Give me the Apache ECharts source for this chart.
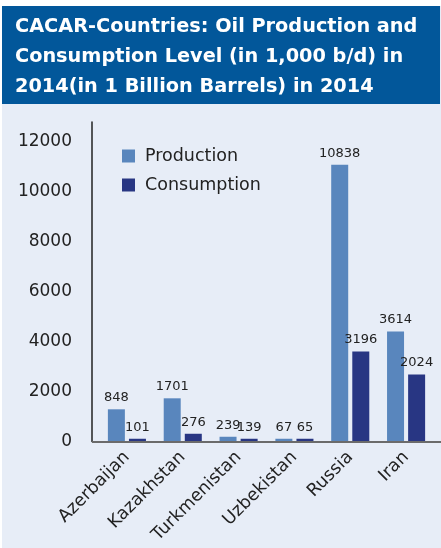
<!DOCTYPE html>
<html><head><meta charset="utf-8">
<script src="https://cdn.jsdelivr.net/npm/echarts/dist/echarts.min.js"></script>
<style>html,body{margin:0;padding:0;background:#fff}#c{width:441px;height:548px}</style>
</head><body><div id="c"></div>
<script>
const categories = ['Azerbaijan', 'Kazakhstan', 'Turkmenistan', 'Uzbekistan', 'Russia', 'Iran'];
// bar heights as drawn in the reference
const productionBars = [1290, 1730, 190, 110, 11090, 4410];
const consumptionBars = [110, 310, 110, 110, 3610, 2680];
// value labels as printed in the reference
const productionLabels = ['848', '1701', '239', '67', '10838', '3614'];
const consumptionLabels = ['101', '276', '139', '65', '3196', '2024'];
const yTicks = [0, 2000, 4000, 6000, 8000, 10000, 12000];
const seriesNames = ['Production', 'Consumption'];
const titleLines = ['CACAR-Countries: Oil Production and', 'Consumption Level (in 1,000 b/d) in', '2014(in 1 Billion Barrels) in 2014'];

const FONT = 'DejaVu Sans';
const chart = echarts.init(document.getElementById('c'), null, {renderer: 'canvas'});

function labelFor(arr) {
  return function (p) { return arr[p.dataIndex]; };
}

const option = {
  backgroundColor: '#e7edf7',
  animation: false,
  title: {
    text: titleLines.join('\n'),
    left: 15, top: 11.5, z: 10, padding: 0,
    textStyle: {fontFamily: FONT, fontSize: 19.3, fontWeight: 'bold', color: '#ffffff', lineHeight: 30}
  },
  legend: {
    orient: 'vertical', left: 122, top: 147, itemWidth: 13, itemHeight: 13, itemGap: 11,
    icon: 'rect', data: seriesNames, padding: 0,
    textStyle: {fontFamily: FONT, fontSize: 17.5, color: '#222222', padding: [0, 0, 0, 5]}
  },
  grid: {left: 99, right: 7, top: 122, bottom: 106.5, containLabel: false},
  xAxis: {
    type: 'category', data: categories,
    axisLine: {show: false}, axisTick: {show: false},
    axisLabel: {rotate: 45, margin: 13, fontFamily: FONT, fontSize: 17.5, color: '#222222', interval: 0}
  },
  yAxis: {
    type: 'value', min: 0, max: 12800, interval: 2000, offset: 7,
    splitLine: {show: false}, axisTick: {show: false},
    axisLine: {show: true, lineStyle: {color: '#222222', width: 1.5}},
    axisLabel: {
      margin: 20, fontFamily: FONT, fontSize: 17, color: '#222222', padding: [0, 0, 8, 0],
      formatter: function (v) { return yTicks.indexOf(v) >= 0 ? String(v) : ''; }
    }
  },
  series: [
    {
      name: seriesNames[0], type: 'bar', data: productionBars, barWidth: 17, barGap: '24%',
      itemStyle: {color: '#5986bd'},
      label: {show: true, position: 'top', distance: 5, formatter: labelFor(productionLabels),
        fontFamily: FONT, fontSize: 13, color: '#222222'}
    },
    {
      name: seriesNames[1], type: 'bar', data: consumptionBars, barWidth: 17, barGap: '24%',
      itemStyle: {color: '#283683'},
      label: {show: true, position: 'top', distance: 5, formatter: labelFor(consumptionLabels),
        fontFamily: FONT, fontSize: 13, color: '#222222'}
    }
  ]
};
chart.setOption(option);

const zeroY = chart.convertToPixel({yAxisIndex: 0}, 0);
chart.setOption({
  graphic: [
    {type: 'rect', z: 1, silent: true, shape: {x: 0, y: 0, width: 441, height: 6}, style: {fill: '#ffffff'}},
    {type: 'rect', z: 1, silent: true, shape: {x: 0, y: 0, width: 2, height: 548}, style: {fill: '#ffffff'}},
    {type: 'rect', z: 1, silent: true, shape: {x: 2, y: 6, width: 438, height: 98}, style: {fill: '#02579a'}},
    {type: 'line', z: 5, silent: true, shape: {x1: 92, y1: zeroY + 0.5, x2: 441, y2: zeroY + 0.5},
      style: {stroke: '#6b6b6b', lineWidth: 2}}
  ]
});
</script>
</body></html>
